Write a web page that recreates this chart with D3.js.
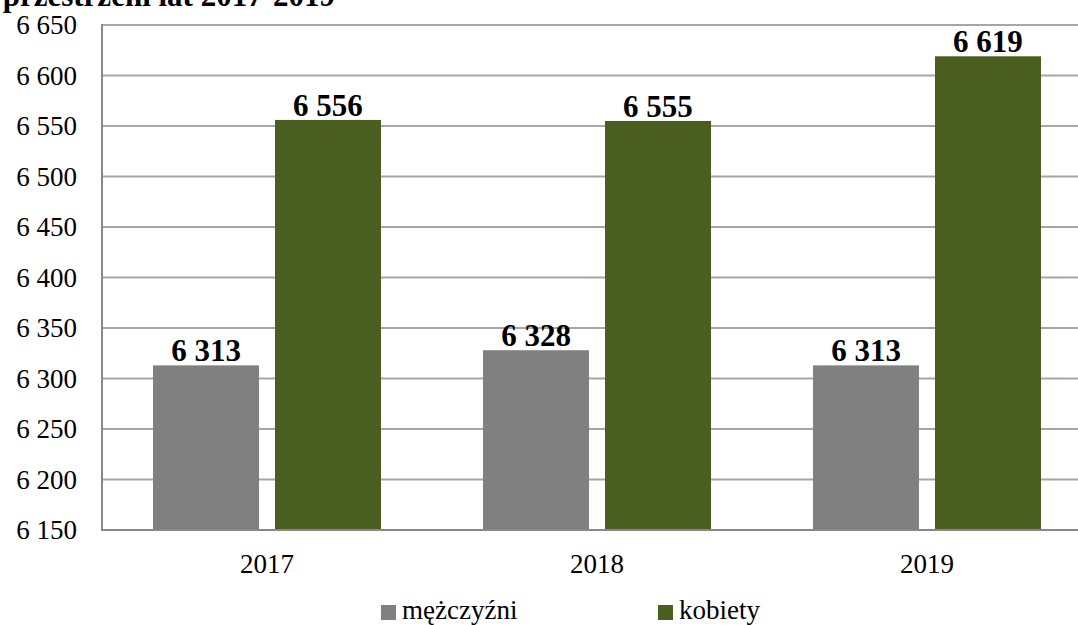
<!DOCTYPE html>
<html>
<head>
<meta charset="utf-8">
<script src="https://cdn.jsdelivr.net/npm/d3@7"></script>
<style>
  body { margin: 0; background: #fff; }
  text { font-family: "Liberation Serif", "DejaVu Serif", serif; }
</style>
</head>
<body>
<svg id="chart"></svg>
<script>
var years = ["2017", "2018", "2019"];
var seriesNames = ["mężczyźni", "kobiety"];
var men = [6313, 6328, 6313];
var women = [6556, 6555, 6619];
var yTicks = [6150, 6200, 6250, 6300, 6350, 6400, 6450, 6500, 6550, 6600, 6650];
var colors = ["#808080", "#4a5e20"];

var w = 1078, h = 625;
var svg = d3.select("#chart").attr("width", w).attr("height", h);

var pl = d3.formatLocale({decimal: ",", thousands: " ", grouping: [3], currency: ["", ""]});
var fmt = pl.format(",d");

var y = d3.scaleLinear().domain([6150, 6650]).range([530, 25]);
var x0 = d3.scaleBand().domain(years).range([102, 1092]);
var x1 = d3.scaleBand().domain(seriesNames).range([51, 279]).paddingInner(0.131);

// title, cut at the top edge as in the source image
svg.append("text")
  .attr("x", 335).attr("y", 6)
  .attr("text-anchor", "end")
  .attr("font-size", 31).attr("font-weight", "bold")
  .text("przestrzeni lat 2017-2019");

// gridlines
svg.append("g").selectAll("line")
  .data(yTicks.slice(1))
  .enter().append("line")
  .attr("x1", 102).attr("x2", w)
  .attr("y1", function(d) { return y(d) }).attr("y2", function(d) { return y(d) })
  .attr("stroke", "#a6a6a6").attr("stroke-width", 2);

// y axis labels
var yAxis = d3.axisLeft(y).tickValues(yTicks).tickFormat(fmt).tickSize(0).tickPadding(25);
var gy = svg.append("g").attr("transform", "translate(102,0)").call(yAxis);
gy.select(".domain").remove();
gy.selectAll("text")
  .attr("font-family", "Liberation Serif").attr("font-size", 27).attr("fill", "#000");

// bars
var rows = years.map(function(yr, i) { return {year: yr, vals: [men[i], women[i]]} });
var groups = svg.selectAll(".grp").data(rows).enter().append("g")
  .attr("transform", function(d) { return "translate(" + x0(d.year) + ",0)" });

groups.selectAll("rect")
  .data(function(d) { return d.vals.map(function(v, j) { return {s: seriesNames[j], v: v, j: j} }) })
  .enter().append("rect")
  .attr("x", function(d) { return x1(d.s) })
  .attr("width", x1.bandwidth())
  .attr("y", function(d) { return y(d.v) })
  .attr("height", function(d) { return 530 - y(d.v) })
  .attr("fill", function(d) { return colors[d.j] });

groups.selectAll(".lbl")
  .data(function(d) { return d.vals.map(function(v, j) { return {s: seriesNames[j], v: v} }) })
  .enter().append("text")
  .attr("class", "lbl")
  .attr("x", function(d) { return x1(d.s) + x1.bandwidth() / 2 })
  .attr("y", function(d) { return y(d.v) - 4 })
  .attr("text-anchor", "middle")
  .attr("font-size", 31).attr("font-weight", "bold")
  .text(function(d) { return fmt(d.v) });

// axes lines
svg.append("line").attr("x1", 102).attr("x2", 102).attr("y1", 24).attr("y2", 531)
  .attr("stroke", "#888").attr("stroke-width", 2);
svg.append("line").attr("x1", 101).attr("x2", w).attr("y1", 530).attr("y2", 530)
  .attr("stroke", "#888").attr("stroke-width", 2);

// x axis labels
var xAxis = d3.axisBottom(x0).tickSize(0).tickPadding(0);
var gx = svg.append("g").attr("transform", "translate(0,530)").call(xAxis);
gx.select(".domain").remove();
gx.selectAll("text")
  .attr("dy", null).attr("y", 43)
  .attr("font-family", "Liberation Serif").attr("font-size", 27).attr("fill", "#000");

// legend
var legX = [381, 658];
var leg = svg.selectAll(".leg").data(seriesNames).enter().append("g")
  .attr("transform", function(d, i) { return "translate(" + legX[i] + ",605)" });
leg.append("rect").attr("width", 15).attr("height", 15)
  .attr("fill", function(d, i) { return colors[i] });
leg.append("text").attr("x", 21).attr("y", 14)
  .attr("font-size", 27).text(function(d) { return d });
</script>
</body>
</html>
